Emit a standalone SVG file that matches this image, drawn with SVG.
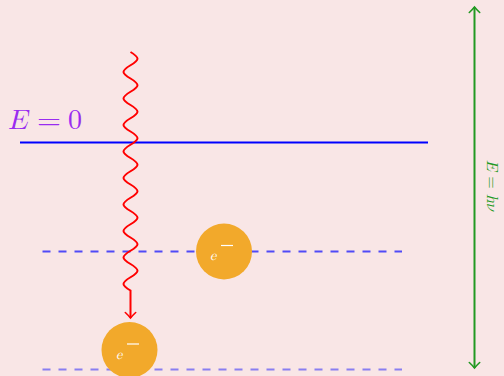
<svg xmlns="http://www.w3.org/2000/svg" width="504" height="376" viewBox="0 0 504 376">
  <defs>
    <style>
      .level-solid { stroke: #0000ff; stroke-width: 2; fill: none; }
      .level-dash { stroke: #0000ff; stroke-width: 2; stroke-dasharray: 8 8; fill: none; }
      .electron { fill: #f2a92b; }
      .e-label { fill: #ffffff; font-family: "Latin Modern Math", "DejaVu Serif", "Liberation Serif", serif; font-style: italic; font-size: 14px; }
      .math { font-family: "Latin Modern Math", "DejaVu Serif", "Liberation Serif", serif; }
    </style>
    <marker id="redArrow" markerWidth="14" markerHeight="14" refX="8" refY="7" orient="auto" markerUnits="userSpaceOnUse">
      <path d="M2.5,1.8 Q5.5,5 8,7 Q5.5,9 2.5,12.2" fill="none" stroke="#ff0000" stroke-width="1.6" stroke-linecap="round"/>
    </marker>
    <marker id="greenTip" markerWidth="14" markerHeight="14" refX="8" refY="7" orient="auto-start-reverse" markerUnits="userSpaceOnUse">
      <path d="M2.5,1.8 Q5.5,5 8,7 Q5.5,9 2.5,12.2" fill="none" stroke="#229922" stroke-width="1.6" stroke-linecap="round"/>
    </marker>
  </defs>

  <rect x="0" y="0" width="504" height="376" fill="#f9e6e6"/>

  <g id="levels">
    <line class="level-solid" x1="20" y1="142.5" x2="428" y2="142.5"/>
    <line class="level-dash" x1="42.5" y1="251.5" x2="402" y2="251.5" stroke-opacity="0.68"/>
    <line class="level-dash" x1="42.5" y1="369.5" x2="402" y2="369.5" stroke-opacity="0.45"/>
  </g>

  <g id="label-zero" fill="#9a2cf0" font-size="28">
    <text class="math" x="8" y="129" font-style="italic">E</text>
    <text class="math" x="37" y="129" transform="translate(37 0) scale(1.1 1) translate(-37 0)">=</text>
    <text class="math" x="68" y="129">0</text>
  </g>

  <g id="connectors">
    <!-- incoming photon -->
    <path d="M130.5,52 c 9.33,5.62 9.33,7.63 0,13.25 s -9.33,7.63 0,13.25 s 9.33,7.63 0,13.25 s -9.33,7.63 0,13.25 s 9.33,7.63 0,13.25 s -9.33,7.63 0,13.25 s 9.33,7.63 0,13.25 s -9.33,7.63 0,13.25 s 9.33,7.63 0,13.25 s -9.33,7.63 0,13.25 s 9.33,7.63 0,13.25 s -9.33,7.63 0,13.25 s 9.33,7.63 0,13.25 s -9.33,7.63 0,13.25 s 9.33,7.63 0,13.25 s -9.33,7.63 0,13.25 s 9.33,7.63 0,13.25 s -9.33,7.63 0,13.25 L130.5,318" fill="none" stroke="#ff0000" stroke-width="2" marker-end="url(#redArrow)"/>
    <!-- energy span -->
    <line x1="474.5" y1="7" x2="474.5" y2="368" stroke="#229922" stroke-width="2" marker-start="url(#greenTip)" marker-end="url(#greenTip)"/>
  </g>

  <g id="electron-upper">
    <circle class="electron" cx="224" cy="251.5" r="28"/>
    <text class="e-label" x="210" y="260">e</text>
    <line x1="221" y1="245.5" x2="233" y2="245.5" stroke="#ffffff" stroke-width="1.2"/>
  </g>

  <g id="electron-lower">
    <circle class="electron" cx="129.5" cy="350" r="28"/>
    <text class="e-label" x="116" y="359">e</text>
    <line x1="127" y1="344" x2="139" y2="344" stroke="#ffffff" stroke-width="1.2"/>
  </g>

  <g id="label-energy">
    <text class="math" transform="translate(487,160) rotate(90)" font-size="16" fill="#229922"><tspan font-style="italic">E</tspan> = <tspan font-style="italic">hν</tspan></text>
  </g>
</svg>
